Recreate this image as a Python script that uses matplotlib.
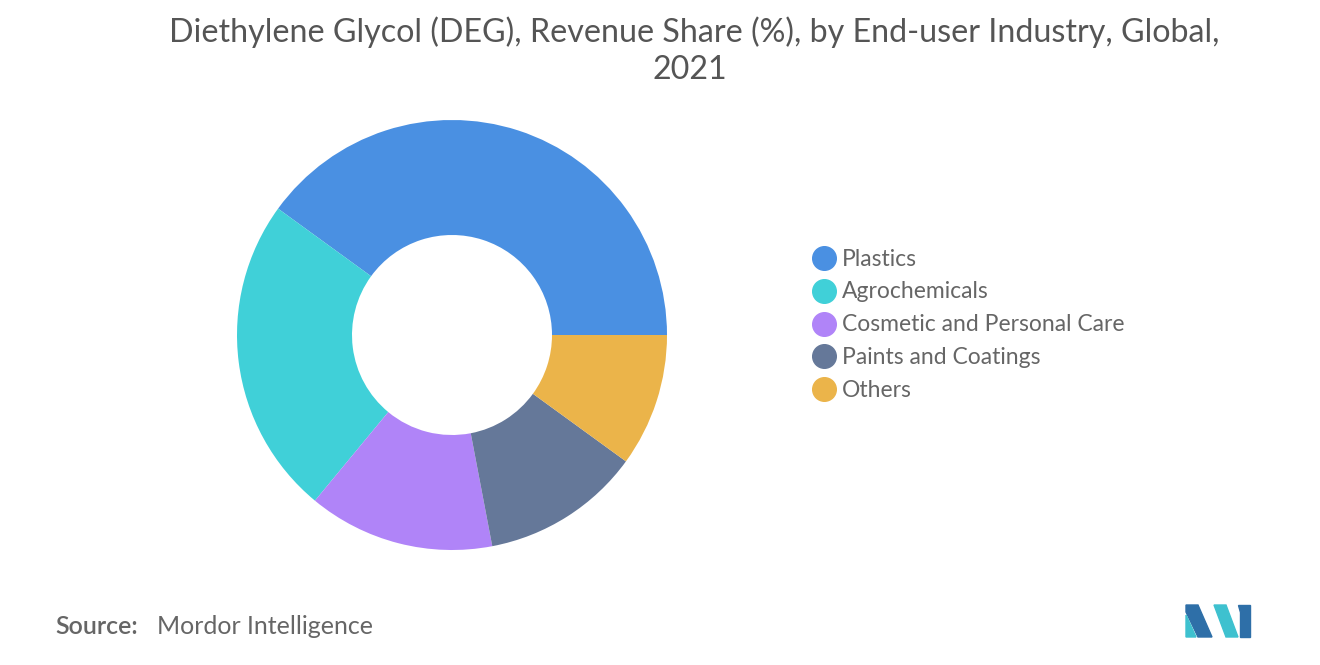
import matplotlib.pyplot as plt
from matplotlib.lines import Line2D
from matplotlib.patches import Polygon

categories = ["Plastics", "Agrochemicals", "Cosmetic and Personal Care", "Paints and Coatings", "Others"]
shares = [40, 24, 14, 12, 10]
colors = ["#4A90E2", "#40D0D8", "#B084F8", "#657899", "#EBB44A"]

W, H = 1320, 665
fig = plt.figure(figsize=(W / 100, H / 100), dpi=100)
fig.patch.set_facecolor("white")

ax = fig.add_axes([237 / W, (H - 550) / H, 430 / W, 430 / H])
ax.pie(shares, colors=colors, startangle=0, counterclock=True, radius=1,
       wedgeprops=dict(width=1 - 100 / 215, linewidth=0))
ax.set_xlim(-1, 1)
ax.set_ylim(-1, 1)
ax.set_aspect("equal")
ax.axis("off")

title_kw = dict(ha="center", va="center", fontsize=23.2, color="#555555", family="Lato")
fig.text(694 / W, 1 - 32 / H,
         "Diethylene Glycol (DEG), Revenue Share (%), by End-user Industry, Global,", **title_kw)
fig.text(690 / W, 1 - 70 / H, "2021", **title_kw)

for i, (name, c) in enumerate(zip(categories, colors)):
    y = 1 - (258 + i * 32.8) / H
    fig.add_artist(Line2D([824 / W], [y], marker="o", markersize=17, color=c,
                          transform=fig.transFigure))
    fig.text(842 / W, y - 1 / H, name, va="center", ha="left", fontsize=16.5,
             color="#666666", family="Lato")

fig.text(55 / W, 1 - 627 / H, "Source:", va="center", ha="left", fontsize=18,
         color="#666666", family="Lato", fontweight="semibold")
fig.text(157 / W, 1 - 627 / H, "Mordor Intelligence", va="center", ha="left",
         fontsize=18, color="#666666", family="Lato")

# logo
def px(pts):
    return [(x / W, 1 - y / H) for x, y in pts]

fig.add_artist(Polygon(px([(1186, 605), (1198, 605), (1212, 637), (1198, 637), (1186, 612)]),
                       closed=True, color="#2E6FA8", transform=fig.transFigure))
fig.add_artist(Polygon(px([(1186, 615), (1196, 637), (1186, 637)]),
                       closed=True, color="#3EC1CF", transform=fig.transFigure))
fig.add_artist(Polygon(px([(1214, 605), (1226, 605), (1238, 637), (1226, 637)]),
                       closed=True, color="#3EC1CF", transform=fig.transFigure))
fig.add_artist(Polygon(px([(1238, 605), (1250, 605), (1250, 637), (1240, 637), (1240, 612)]),
                       closed=True, color="#2E6FA8", transform=fig.transFigure))

fig.savefig("out.png", dpi=100)
